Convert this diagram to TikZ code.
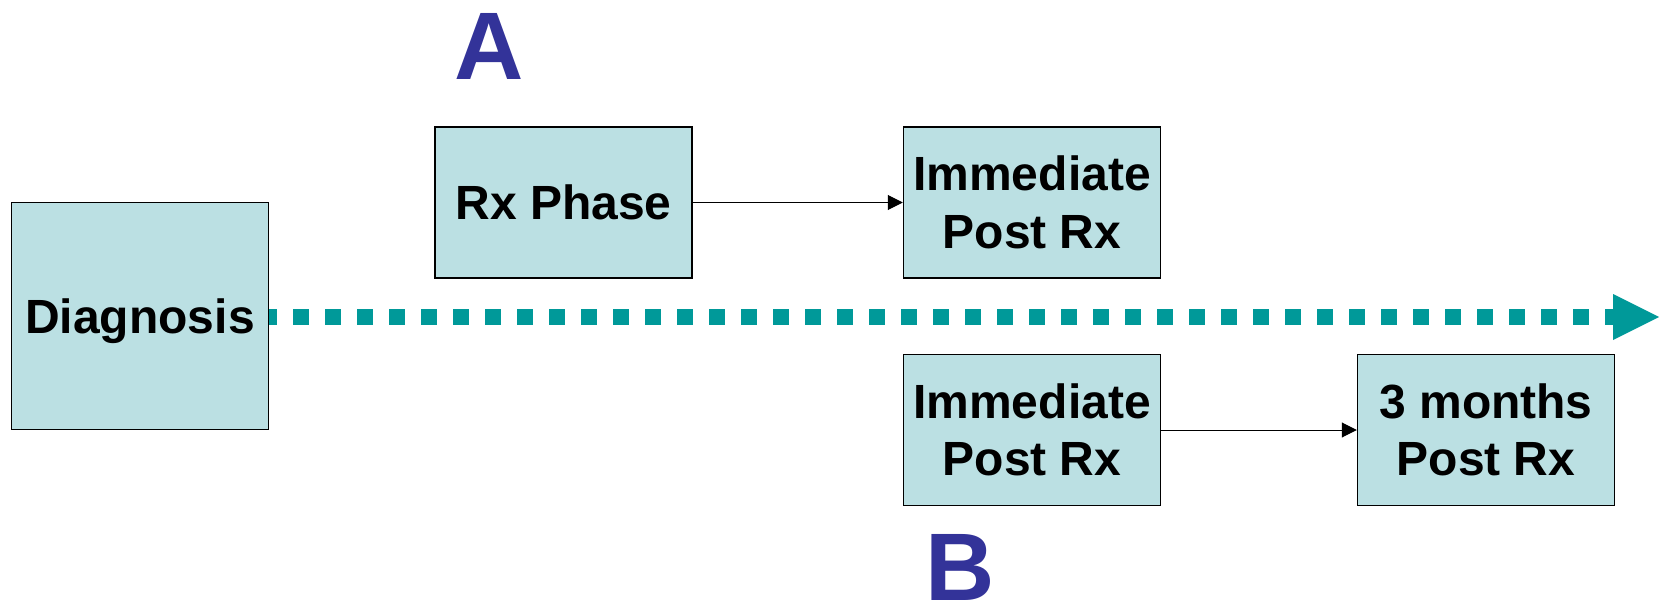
\documentclass[tikz,border=0pt]{standalone}
\usepackage{fontspec}
\setmainfont{Liberation Sans}
\usetikzlibrary{arrows.meta}
\definecolor{boxfill}{HTML}{BBE0E3}
\definecolor{teal}{HTML}{009999}
\definecolor{letterblue}{HTML}{333399}
\tikzset{
  box/.style={draw=black, line width=0.75pt, fill=boxfill, minimum width=128.5pt,
    minimum height=75.5pt, inner sep=0pt, align=center,
    font=\fontsize{24pt}{28.8pt}\selectfont\bfseries},
  bigletter/.style={anchor=base, inner sep=0pt, text=letterblue,
    font=\fontsize{48pt}{48pt}\selectfont\bfseries},
  link/.style={line width=0.5pt, -{Triangle[length=7.5pt,width=7.5pt]}}
}
\begin{document}
\begin{tikzpicture}[x=0.5pt, y=-0.5pt]
    \useasboundingbox (0,0) rectangle (1664,609);
    % the boxes
        \node[box, minimum height=113.5pt, text depth=0pt] (diag) at (140,316) {Diagnosis};
        \node[box] (rx) at (563.5,202.5) {Rx Phase};
        \node[box] (immA) at (1032,202.5) {Immediate\\Post Rx};
        \node[box] (immB) at (1032,430) {Immediate\\Post Rx};
        \node[box] (three) at (1486,430) {3 months\\Post Rx};
    % A and B
        \node[bigletter] (labA) at (489,79.6) {A};
        \node[bigletter] (labB) at (960.5,600) {B};
    % time line
        \coordinate (tip) at (1659,317);
        \draw[teal, line width=8pt, dash pattern=on 8pt off 8pt, dash phase=4pt]
            (diag.east |- tip) -- ([xshift=-23pt] tip);
        \fill[teal] (tip) -- ++(-46,-23) -- ++(0,46) -- cycle;
    % arrows between boxes
        \draw[link] (rx) -- (immA);
        \draw[link] (immB) -- (three);
\end{tikzpicture}
\end{document}
